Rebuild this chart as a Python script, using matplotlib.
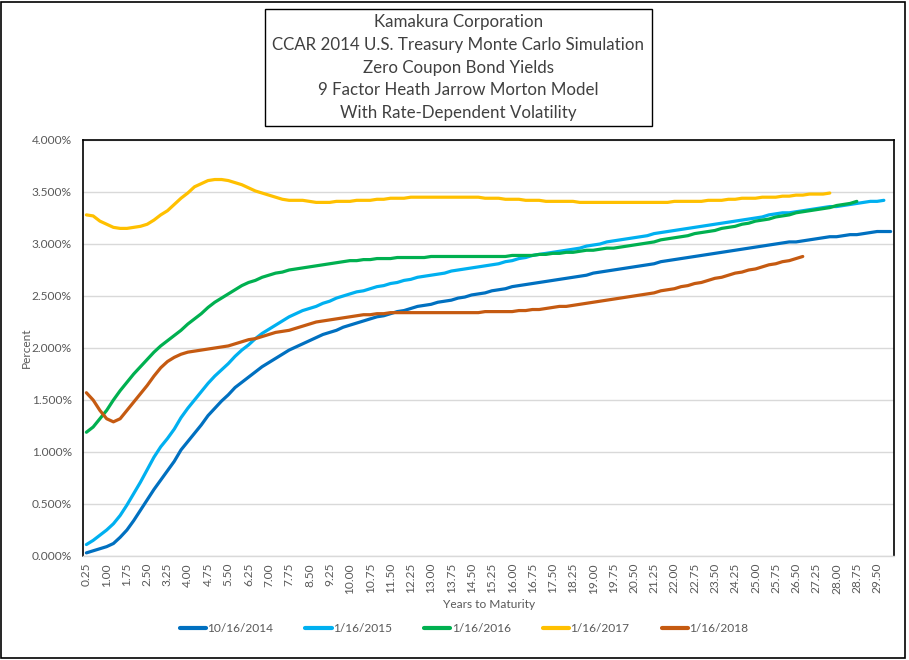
import numpy as np
import matplotlib
matplotlib.use("Agg")
import matplotlib.pyplot as plt
from matplotlib.patches import Rectangle

# ---------------- data ----------------
years = [f"{0.25 * (i + 1):.2f}" for i in range(120)]

series_names = ["10/16/2014", "1/16/2015", "1/16/2016", "1/16/2017", "1/16/2018"]
series_colors = ["#0070C0", "#00B0F0", "#00B050", "#FFC000", "#C55A11"]

y_2014 = [
    0.03, 0.05, 0.07, 0.09, 0.12, 0.18, 0.25, 0.34, 0.44, 0.54, 0.64, 0.73,
    0.82, 0.91, 1.02, 1.10, 1.18, 1.26, 1.35, 1.42, 1.49, 1.55, 1.62, 1.67,
    1.72, 1.77, 1.82, 1.86, 1.90, 1.94, 1.98, 2.01, 2.04, 2.07, 2.10, 2.13,
    2.15, 2.17, 2.20, 2.22, 2.24, 2.26, 2.28, 2.30, 2.31, 2.33, 2.35, 2.36,
    2.38, 2.40, 2.41, 2.42, 2.44, 2.45, 2.46, 2.48, 2.49, 2.51, 2.52, 2.53,
    2.55, 2.56, 2.57, 2.59, 2.60, 2.61, 2.62, 2.63, 2.64, 2.65, 2.66, 2.67,
    2.68, 2.69, 2.70, 2.72, 2.73, 2.74, 2.75, 2.76, 2.77, 2.78, 2.79, 2.80,
    2.81, 2.83, 2.84, 2.85, 2.86, 2.87, 2.88, 2.89, 2.90, 2.91, 2.92, 2.93,
    2.94, 2.95, 2.96, 2.97, 2.98, 2.99, 3.00, 3.01, 3.02, 3.02, 3.03, 3.04,
    3.05, 3.06, 3.07, 3.07, 3.08, 3.09, 3.09, 3.10, 3.11, 3.12, 3.12, 3.12,
]

y_2015 = [
    0.11, 0.15, 0.20, 0.25, 0.31, 0.39, 0.49, 0.60, 0.71, 0.83, 0.95, 1.05,
    1.13, 1.22, 1.33, 1.42, 1.50, 1.58, 1.66, 1.73, 1.79, 1.85, 1.92, 1.98,
    2.03, 2.09, 2.14, 2.18, 2.22, 2.26, 2.30, 2.33, 2.36, 2.38, 2.40, 2.43,
    2.45, 2.48, 2.50, 2.52, 2.54, 2.55, 2.57, 2.59, 2.60, 2.62, 2.63, 2.65,
    2.66, 2.68, 2.69, 2.70, 2.71, 2.72, 2.74, 2.75, 2.76, 2.77, 2.78, 2.79,
    2.80, 2.81, 2.83, 2.84, 2.86, 2.87, 2.89, 2.90, 2.91, 2.92, 2.93, 2.94,
    2.95, 2.96, 2.98, 2.99, 3.00, 3.02, 3.03, 3.04, 3.05, 3.06, 3.07, 3.08,
    3.10, 3.11, 3.12, 3.13, 3.14, 3.15, 3.16, 3.17, 3.18, 3.19, 3.20, 3.21,
    3.22, 3.23, 3.24, 3.25, 3.26, 3.28, 3.29, 3.30, 3.30, 3.31, 3.32, 3.33,
    3.34, 3.35, 3.36, 3.36, 3.37, 3.38, 3.39, 3.40, 3.41, 3.41, 3.42,
]

y_2016 = [
    1.19, 1.24, 1.32, 1.40, 1.50, 1.59, 1.67, 1.75, 1.82, 1.89, 1.96, 2.02,
    2.07, 2.12, 2.17, 2.23, 2.28, 2.33, 2.39, 2.44, 2.48, 2.52, 2.56, 2.60,
    2.63, 2.65, 2.68, 2.70, 2.72, 2.73, 2.75, 2.76, 2.77, 2.78, 2.79, 2.80,
    2.81, 2.82, 2.83, 2.84, 2.84, 2.85, 2.85, 2.86, 2.86, 2.86, 2.87, 2.87,
    2.87, 2.87, 2.87, 2.88, 2.88, 2.88, 2.88, 2.88, 2.88, 2.88, 2.88, 2.88,
    2.88, 2.88, 2.88, 2.89, 2.89, 2.89, 2.89, 2.90, 2.90, 2.91, 2.91, 2.92,
    2.92, 2.93, 2.94, 2.94, 2.95, 2.96, 2.96, 2.97, 2.98, 2.99, 3.00, 3.01,
    3.02, 3.04, 3.05, 3.06, 3.07, 3.08, 3.10, 3.11, 3.12, 3.13, 3.15, 3.16,
    3.17, 3.19, 3.20, 3.22, 3.23, 3.24, 3.26, 3.27, 3.28, 3.30, 3.31, 3.32,
    3.33, 3.34, 3.35, 3.37, 3.38, 3.39, 3.41,
]

y_2017 = [
    3.28, 3.27, 3.22, 3.19, 3.16, 3.15, 3.15, 3.16, 3.17, 3.19, 3.23, 3.28,
    3.32, 3.38, 3.44, 3.49, 3.55, 3.58, 3.61, 3.62, 3.62, 3.61, 3.59, 3.57,
    3.54, 3.51, 3.49, 3.47, 3.45, 3.43, 3.42, 3.42, 3.42, 3.41, 3.40, 3.40,
    3.40, 3.41, 3.41, 3.41, 3.42, 3.42, 3.42, 3.43, 3.43, 3.44, 3.44, 3.44,
    3.45, 3.45, 3.45, 3.45, 3.45, 3.45, 3.45, 3.45, 3.45, 3.45, 3.45, 3.44,
    3.44, 3.44, 3.43, 3.43, 3.43, 3.42, 3.42, 3.42, 3.41, 3.41, 3.41, 3.41,
    3.41, 3.40, 3.40, 3.40, 3.40, 3.40, 3.40, 3.40, 3.40, 3.40, 3.40, 3.40,
    3.40, 3.40, 3.40, 3.41, 3.41, 3.41, 3.41, 3.41, 3.42, 3.42, 3.42, 3.43,
    3.43, 3.44, 3.44, 3.44, 3.45, 3.45, 3.45, 3.46, 3.46, 3.47, 3.47, 3.48,
    3.48, 3.48, 3.49,
]

y_2018 = [
    1.57, 1.50, 1.40, 1.32, 1.29, 1.32, 1.40, 1.48, 1.56, 1.64, 1.73, 1.81,
    1.87, 1.91, 1.94, 1.96, 1.97, 1.98, 1.99, 2.00, 2.01, 2.02, 2.04, 2.06,
    2.08, 2.09, 2.11, 2.13, 2.15, 2.16, 2.17, 2.19, 2.21, 2.23, 2.25, 2.26,
    2.27, 2.28, 2.29, 2.30, 2.31, 2.32, 2.32, 2.33, 2.33, 2.34, 2.34, 2.34,
    2.34, 2.34, 2.34, 2.34, 2.34, 2.34, 2.34, 2.34, 2.34, 2.34, 2.34, 2.35,
    2.35, 2.35, 2.35, 2.35, 2.36, 2.36, 2.37, 2.37, 2.38, 2.39, 2.40, 2.40,
    2.41, 2.42, 2.43, 2.44, 2.45, 2.46, 2.47, 2.48, 2.49, 2.50, 2.51, 2.52,
    2.53, 2.55, 2.56, 2.57, 2.59, 2.60, 2.62, 2.63, 2.65, 2.67, 2.68, 2.70,
    2.72, 2.73, 2.75, 2.76, 2.78, 2.80, 2.81, 2.83, 2.84, 2.86, 2.88,
]

series_values = [y_2014, y_2015, y_2016, y_2017, y_2018]

y_ticks = [0.0, 0.5, 1.0, 1.5, 2.0, 2.5, 3.0, 3.5, 4.0]

title_lines = [
    "Kamakura Corporation",
    "CCAR 2014 U.S. Treasury Monte Carlo Simulation",
    "Zero Coupon Bond Yields",
    "9 Factor Heath Jarrow Morton Model",
    "With Rate-Dependent Volatility",
]

# ---------------- figure ----------------
plt.rcParams["font.family"] = ["Lato", "DejaVu Sans"]
W, H = 909, 660
fig = plt.figure(figsize=(W / 100, H / 100), dpi=100)

# outer chart border
fig.patches.append(Rectangle((1 / W, 2 / H), 903.5 / W, 656 / H, transform=fig.transFigure,
                             fill=False, edgecolor="black", linewidth=1.2))

# title box
bx0, bx1, by0, by1 = 265, 652, 8.5, 126
fig.patches.append(Rectangle((bx0 / W, 1 - by1 / H), (bx1 - bx0) / W, (by1 - by0) / H,
                             transform=fig.transFigure, fill=False, edgecolor="black", linewidth=1.0))
line_y = [22.3, 45.0, 67.7, 90.3, 113.0]
for txt, yy in zip(title_lines, line_y):
    fig.text((bx0 + bx1) / 2 / W, 1 - yy / H, txt, ha="center", va="center",
             fontsize=12.2, color="#404040")

# plot area
L, R, T, B = 83, 894, 140, 556
ax = fig.add_axes([L / W, 1 - B / H, (R - L) / W, (B - T) / H])

x_idx = np.arange(len(years))
for vals, name, col in zip(series_values, series_names, series_colors):
    ax.plot(x_idx[:len(vals)], vals, color=col, linewidth=2.3, label=name,
            solid_capstyle="round", solid_joinstyle="round")

ax.set_xlim(-0.5, len(years) - 0.5)
ax.set_ylim(0, 4.0)
ax.set_yticks(y_ticks)
ax.set_yticklabels([f"{v:.3f}%" for v in y_ticks])
tick_pos = x_idx[::3]
ax.set_xticks(tick_pos)
ax.set_xticklabels([years[i] for i in tick_pos], rotation=90)
ax.tick_params(axis="both", length=0, labelsize=8.6, labelcolor="#595959")
ax.tick_params(axis="x", pad=5)
ax.tick_params(axis="y", pad=8)

ax.grid(axis="y", color="#d9d9d9", linewidth=1.0)
ax.set_axisbelow(True)
for s in ["left", "top", "right"]:
    ax.spines[s].set_color("black")
    ax.spines[s].set_linewidth(1.2)
ax.spines["bottom"].set_color("#d9d9d9")
ax.spines["bottom"].set_linewidth(1.0)

ax.set_ylabel("Percent", fontsize=8.6, color="#595959")
ax.yaxis.set_label_coords(-(L - 32) / (R - L), 0.5)
ax.set_xlabel("Years to Maturity", fontsize=8.6, color="#595959")
ax.xaxis.set_label_coords((489 - L) / (R - L), -(599 - B) / (B - T))

leg = fig.legend(loc="center", bbox_to_anchor=(464 / W, 1 - 629 / H), ncol=5, frameon=False,
                 fontsize=8.6, handlelength=2.2, handletextpad=0.1, columnspacing=2.7)
for t in leg.get_texts():
    t.set_color("#595959")
for h in leg.get_lines():
    h.set_linewidth(3.0)

fig.savefig("out.png", dpi=100)
